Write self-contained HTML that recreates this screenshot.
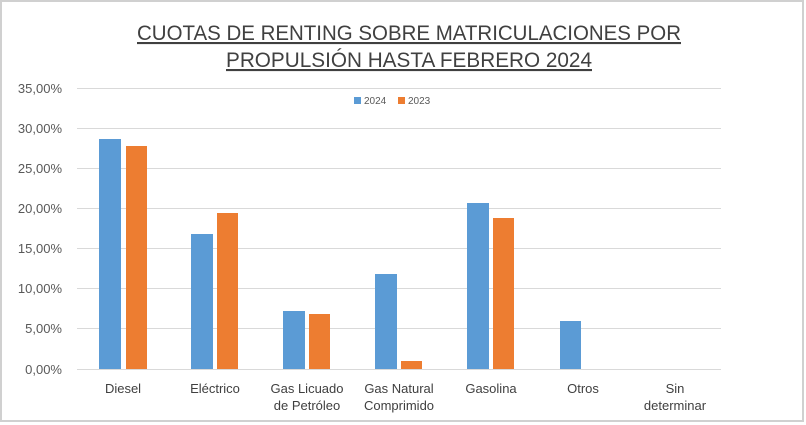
<!DOCTYPE html>
<html><head><meta charset="utf-8"><style>
html,body{margin:0;padding:0;background:#fff}
svg{display:block;font-family:"Liberation Sans",sans-serif}
</style></head><body>
<svg width="806" height="425" viewBox="0 0 806 425" xmlns="http://www.w3.org/2000/svg">
<rect x="1" y="1" width="802" height="420" fill="#fff" stroke="#d0d0d0" stroke-width="2"/>
<text x="137" y="40" textLength="544" lengthAdjust="spacingAndGlyphs" font-size="21" fill="#404040" text-decoration="underline">CUOTAS DE RENTING SOBRE MATRICULACIONES POR</text>
<text x="226" y="67" textLength="366" lengthAdjust="spacingAndGlyphs" font-size="21" fill="#404040" text-decoration="underline">PROPULSIÓN HASTA FEBRERO 2024</text>
<g stroke="#d9d9d9" stroke-width="1">
<line x1="77" y1="88.5" x2="721" y2="88.5"/><line x1="77" y1="128.5" x2="721" y2="128.5"/>
<line x1="77" y1="168.5" x2="721" y2="168.5"/><line x1="77" y1="208.5" x2="721" y2="208.5"/>
<line x1="77" y1="248.5" x2="721" y2="248.5"/><line x1="77" y1="288.5" x2="721" y2="288.5"/>
<line x1="77" y1="328.5" x2="721" y2="328.5"/><line x1="77" y1="369.5" x2="721" y2="369.5"/>
</g>
<g font-size="13" fill="#595959" text-anchor="end">
<text x="62" y="93">35,00%</text><text x="62" y="133">30,00%</text><text x="62" y="173">25,00%</text>
<text x="62" y="213">20,00%</text><text x="62" y="253">15,00%</text><text x="62" y="293">10,00%</text>
<text x="62" y="333">5,00%</text><text x="62" y="374">0,00%</text>
</g>
<rect x="354" y="97" width="7" height="7" fill="#5b9bd5"/><text x="364" y="104" font-size="10" fill="#595959">2024</text>
<rect x="398" y="97" width="7" height="7" fill="#ed7d31"/><text x="408" y="104" font-size="10" fill="#595959">2023</text>
<g fill="#5b9bd5">
<rect x="99" y="139" width="22" height="230"/>
<rect x="191" y="234" width="22" height="135"/>
<rect x="283" y="311" width="22" height="58"/>
<rect x="375" y="274" width="22" height="95"/>
<rect x="467" y="203" width="22" height="166"/>
<rect x="560" y="321" width="21" height="48"/>
</g>
<g fill="#ed7d31">
<rect x="126" y="146" width="21" height="223"/>
<rect x="217" y="213" width="21" height="156"/>
<rect x="309" y="314" width="21" height="55"/>
<rect x="401" y="361" width="21" height="8"/>
<rect x="493" y="218" width="21" height="151"/>
</g>
<g font-size="13" fill="#404040" text-anchor="middle">
<text x="123" y="393">Diesel</text>
<text x="215" y="393">Eléctrico</text>
<text x="307" y="393">Gas Licuado</text><text x="307" y="410">de Petróleo</text>
<text x="399" y="393">Gas Natural</text><text x="399" y="410">Comprimido</text>
<text x="491" y="393">Gasolina</text>
<text x="583" y="393">Otros</text>
<text x="675" y="393">Sin</text><text x="675" y="410">determinar</text>
</g>
</svg>
</body></html>
